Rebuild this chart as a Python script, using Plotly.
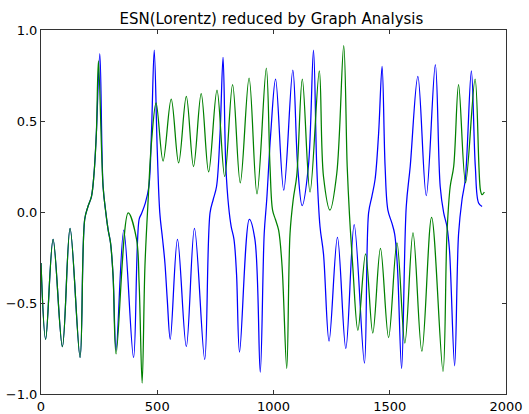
import plotly.graph_objects as go

# Network output traces: key samples (step, value) along each signal
blue_x = [0, 20, 52, 92, 125, 168, 188, 202, 217, 228, 238, 253, 267, 279, 289, 299, 310, 323,
          356, 398, 422, 432, 449, 464, 475, 487, 500, 511, 523, 533, 543, 556, 587, 625, 660, 704,
          727, 741, 755, 770, 783, 795, 807, 818, 830, 841, 854, 896, 920, 943, 960, 971, 988, 1009,
          1044, 1083, 1104, 1123, 1150, 1172, 1186, 1200, 1215, 1239, 1275, 1311, 1347, 1391, 1409,
          1423, 1437, 1452, 1467, 1480, 1492, 1509, 1521, 1533, 1551, 1571, 1588, 1621, 1657, 1696,
          1717, 1732, 1746, 1757, 1779, 1796, 1811, 1825, 1851, 1868, 1882, 1897]
blue_y = [-0.28, -0.70, -0.15, -0.74, -0.09, -0.80, -0.04, 0.03, 0.085, 0.21, 0.43, 0.87, 0.14, -0.005, -0.10, -0.17, -0.35, -0.76,
          -0.10, -0.80, -0.04, -0.01, 0.05, 0.14, 0.43, 0.89, 0.34, -0.005, -0.15, -0.28, -0.48, -0.70, -0.15, -0.74, -0.09, -0.81,
          -0.005, 0.07, 0.14, 0.43, 0.85, 0.25, 0.03, -0.08, -0.15, -0.34, -0.77, -0.04, -0.15, -0.88, -0.12, 0.07, 0.43, 0.73,
          0.12, 0.78, 0.25, 0.035, 0.25, 0.89, 0.25, -0.08, -0.23, -0.71, -0.14, -0.75, -0.07, -0.83, -0.005,
          0.085, 0.18, 0.43, 0.80, 0.25, 0.01, -0.06, -0.12, -0.30, -0.86, 0.03, 0.25, 0.745, 0.09, 0.81,
          0.14, -0.005, -0.08, -0.21, -0.845, -0.12, 0.07, 0.18, 0.775, 0.25, 0.05, 0.03]

green_x = [0, 20, 52, 92, 125, 168, 188, 202, 217, 228, 238, 247, 267, 279, 289, 299, 310, 323,
           375, 411, 422, 435, 447, 461, 475, 495, 525, 560, 592, 625, 656, 689, 721, 757, 790, 824,
           857, 895, 929, 969, 985, 996, 1008, 1022, 1037, 1057, 1071, 1085, 1100, 1124, 1157, 1197,
           1215, 1243, 1272, 1302, 1317, 1327, 1341, 1363, 1396, 1427, 1460, 1495, 1531, 1565, 1600,
           1638, 1680, 1729, 1746, 1760, 1775, 1796, 1826, 1867, 1890, 1897, 1907]
green_y = [-0.28, -0.70, -0.15, -0.74, -0.09, -0.80, -0.04, 0.03, 0.085, 0.21, 0.43, 0.83, 0.14, -0.005, -0.10, -0.17, -0.35, -0.78,
           -0.005, -0.15, -0.39, -0.94, -0.30, 0.07, 0.38, 0.60, 0.28, 0.62, 0.27, 0.635, 0.25, 0.65, 0.22, 0.67, 0.195, 0.70,
           0.16, 0.735, 0.10, 0.79, 0.25, 0.01, -0.04, -0.10, -0.30, -0.86, -0.12, 0.07, 0.20, 0.73, 0.11, 0.775,
           0.195, 0.01, 0.21, 0.914, 0.25, -0.02, -0.30, -0.65, -0.23, -0.665, -0.20, -0.69, -0.17, -0.72, -0.115,
           -0.765, -0.03, -0.875, -0.12, 0.14, 0.25, 0.70, 0.16, 0.73, 0.12, 0.095, 0.11]

x_ticks = [0, 500, 1000, 1500, 2000]
y_ticks = [-1.0, -0.5, 0.0, 0.5, 1.0]

fig = go.Figure()
fig.add_trace(go.Scatter(x=blue_x, y=blue_y, mode="lines",
                         line=dict(color="#0000ff", width=1.25, shape="spline", smoothing=1.0)))
fig.add_trace(go.Scatter(x=green_x, y=green_y, mode="lines",
                         line=dict(color="#008000", width=1.25, shape="spline", smoothing=1.0)))

axis_common = dict(showgrid=False, zeroline=False, showline=True, linecolor="#333333", linewidth=1,
                   mirror="ticks", ticks="inside", ticklen=4, tickcolor="#333333", tickwidth=1,
                   automargin=False,
                   tickfont=dict(family="DejaVu Sans", size=13, color="black"))

fig.update_layout(
    width=529, height=414,
    margin=dict(l=41, r=23, t=30, b=20),
    paper_bgcolor="white", plot_bgcolor="white",
    showlegend=False,
    title=dict(text="ESN(Lorentz) reduced by Graph Analysis", x=0.513, xanchor="center",
               y=0.955, yanchor="middle",
               font=dict(family="DejaVu Sans", size=15, color="black")),
    xaxis=dict(range=[0, 2000], tickvals=x_ticks, ticktext=[str(v) for v in x_ticks], **axis_common),
    yaxis=dict(range=[-1.0, 1.0], tickvals=y_ticks,
               ticktext=[f"{v:.1f}".replace("-", "\u2212") for v in y_ticks], **axis_common),
)

fig.write_html("out.html")
